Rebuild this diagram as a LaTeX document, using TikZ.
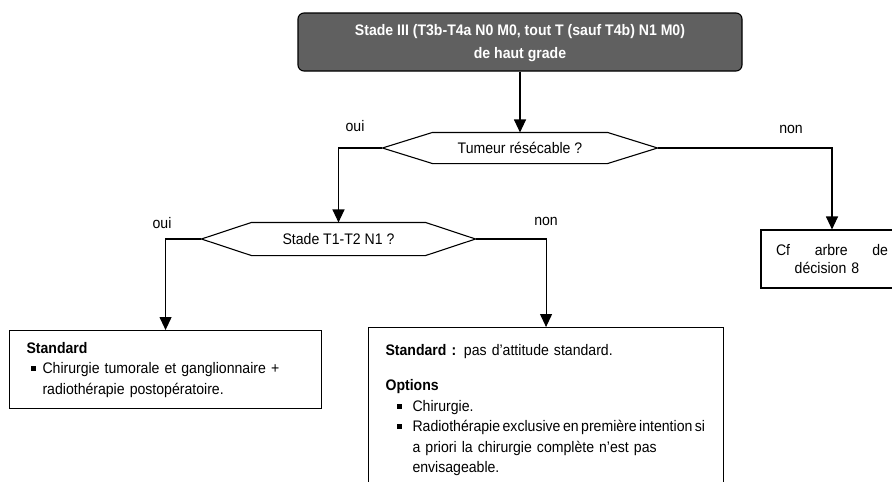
\documentclass[tikz,border=0pt]{standalone}
\usepackage{fontspec}
\setmainfont{Liberation Sans}[FakeStretch=0.92]
\usetikzlibrary{arrows.meta,calc}
\definecolor{topgray}{RGB}{96,96,96}
\newcommand{\mybul}{\makebox[16pt][l]{\hspace{4pt}\rule[2.6pt]{5pt}{5pt}}}
\newcommand{\myind}{\hspace*{16pt}}
\newcommand{\mybulb}{\makebox[27pt][l]{\hspace{11pt}\rule[2.6pt]{5pt}{5pt}}}
\newcommand{\myindb}{\hspace*{27pt}}
\newcommand{\hexa}[2]{\draw (#1.west) -- ([xshift=#2]#1.north west) -- ([xshift=-#2]#1.north east) -- (#1.east) -- ([xshift=-#2]#1.south east) -- ([xshift=#2]#1.south west) -- cycle;}
\tikzset{
  basefont/.style={font=\fontsize{15.3}{20.5}\selectfont},
  topbox/.style={draw, rounded corners=6pt, fill=topgray, minimum width=444pt, minimum height=58pt, inner sep=0pt},
  toptext/.style={text=white, font=\fontsize{15.3}{20.5}\selectfont\bfseries, align=center, inner sep=0pt},
  hexnode/.style={inner sep=0pt},
  txtbox/.style={draw, align=left, inner xsep=17pt, anchor=north west},
  lab/.style={inner sep=0pt},
  conn/.style={-{Triangle[length=13pt,width=12pt]}}
}
\begin{document}
\begin{tikzpicture}[x=1pt,y=-1pt,basefont,line width=1.1pt]
\useasboundingbox (0,0) rectangle (892,482);
\clip (0,0) rectangle (892,482);

% top box
\node[topbox] (top) at (520,42) {};
\node[toptext] (toptxt) at (520,43) {Stade III (T3b-T4a N0 M0, tout T (sauf T4b) N1 M0)\\[2.5pt]de haut grade};

% decisions
\node[hexnode, minimum width=274pt, minimum height=30pt] (q1) at (520,148) {Tumeur résécable ?};
\hexa{q1}{50pt}
\node[hexnode, minimum width=273pt, minimum height=32pt] (q2) at (338.5,239) {Stade T1-T2 N1 ?};
\hexa{q2}{50pt}

% boxes
\node[txtbox, minimum width=312pt, minimum height=78pt, text width=278pt] (lbox) at (9,330)
  {\textbf{Standard}\\
   \mybul Chirurgie tumorale et ganglionnaire +\\
   \myind radiothérapie postopératoire.};

\node[txtbox, minimum width=355pt, text width=321pt, inner ysep=17pt] (mbox) at (368,327)
  {\textbf{Standard :} pas d’attitude standard.\\[14.5pt]
   \textbf{Options}\\
   \mybulb Chirurgie.\\
   \mbox{\spaceskip=2.5pt\mybulb Radiothérapie exclusive en première intention si}\\
   \myindb a priori la chirurgie complète n’est pas\\
   \myindb envisageable.\\[6pt]};

\node[draw, minimum width=142pt, minimum height=58pt, text width=112pt, align=center, inner sep=0pt] (rbox) at (832,259)
  {\makebox[112pt][s]{Cf\hfill arbre\hfill de}\\[-3pt]\hspace*{-10pt}décision 8};

% connectors
\draw[conn] (top.south) -- (q1.north);
\draw[conn] (q1.west) -| (q2.north);
\draw[conn] (q1.east) -| (rbox.north);
\draw[conn] (q2.west) -| (lbox.north);
\draw[conn] (q2.east) -| (mbox.north);

% labels
\node[lab] (oui1) at (355,126) {oui};
\node[lab] (non1) at (791,129) {non};
\node[lab] (oui2) at (162,223) {oui};
\node[lab] (non2) at (546,221) {non};
\end{tikzpicture}
\end{document}
